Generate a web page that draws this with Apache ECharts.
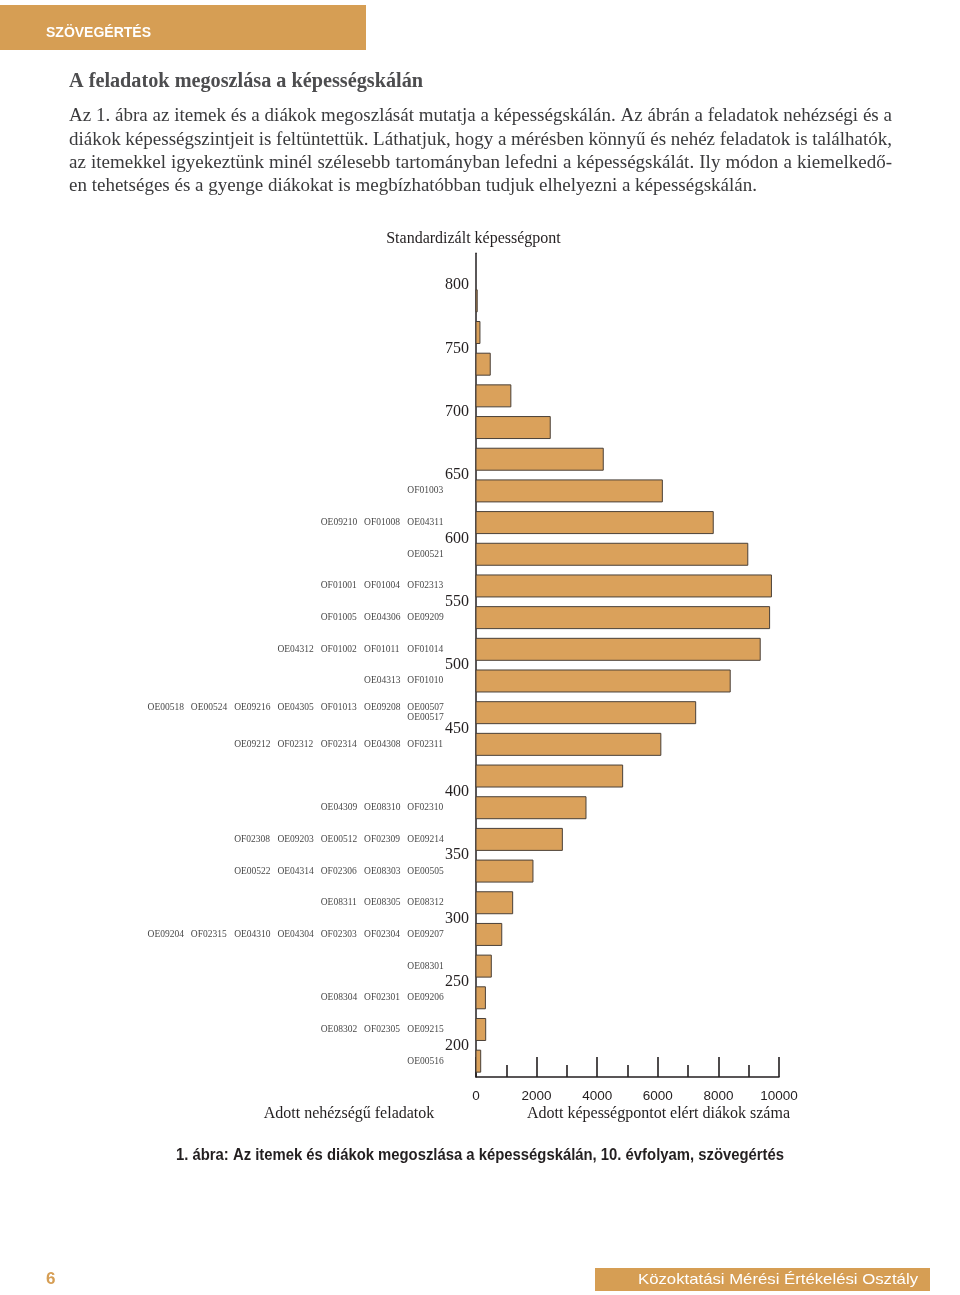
<!DOCTYPE html>
<html>
<head>
<meta charset="utf-8">
<script src="https://cdn.jsdelivr.net/npm/echarts@6/dist/echarts.min.js"></script>
<style>
html,body{margin:0;padding:0;background:#fff;}
#chart{width:960px;height:1295px;}
</style>
</head>
<body>
<div id="chart"></div>
<script>
// ---------- DATA ----------
// Ability bins (lower bound of each 25-point bin), top to bottom
const binStart = [775,750,725,700,675,650,625,600,575,550,525,500,475,450,425,400,375,350,325,300,275,250,225,200,175];
// Number of students in each bin
const studentCounts = [40,130,470,1150,2450,4200,6150,7830,8970,9750,9690,9380,8390,7250,6100,4840,3630,2850,1880,1210,850,505,310,320,155];
const binSize = 25;

// Item difficulty levels (ability-scale value of each label row)
const itemLevels = [637.5,612.5,587.5,562.5,537.5,512.5,487.5,462.5,437.5,387.5,362.5,337.5,312.5,287.5,262.5,237.5,212.5,187.5];
const itemNames = [
  ['OF01003'],
  ['OE09210','OF01008','OE04311'],
  ['OE00521'],
  ['OF01001','OF01004','OF02313'],
  ['OF01005','OE04306','OE09209'],
  ['OE04312','OF01002','OF01011','OF01014'],
  ['OE04313','OF01010'],
  ['OE00518','OE00524','OE09216','OE04305','OF01013','OE09208','OE00507\nOE00517'],
  ['OE09212','OF02312','OF02314','OE04308','OF02311'],
  ['OE04309','OE08310','OF02310'],
  ['OF02308','OE09203','OE00512','OF02309','OE09214'],
  ['OE00522','OE04314','OF02306','OE08303','OE00505'],
  ['OE08311','OE08305','OE08312'],
  ['OE09204','OF02315','OE04310','OE04304','OF02303','OF02304','OE09207'],
  ['OE08301'],
  ['OE08304','OF02301','OE09206'],
  ['OE08302','OF02305','OE09215'],
  ['OE00516']
];

const xTicks = [0,2000,4000,6000,8000,10000];
const yTickLabels = [200,250,300,350,400,450,500,550,600,650,700,750,800];

const headerText = 'SZÖVEGÉRTÉS';
const titleText = 'A feladatok megoszlása a képességskálán';
const paragraphLines = [
  'Az 1. ábra az itemek és a diákok megoszlását mutatja a képességskálán. Az ábrán a feladatok nehézségi és a',
  'diákok képességszintjeit is feltüntettük. Láthatjuk, hogy a mérésben könnyű és nehéz feladatok is találhatók,',
  'az itemekkel igyekeztünk minél szélesebb tartományban lefedni a képességskálát. Ily módon a kiemelkedő-',
  'en tehetséges és a gyenge diákokat is megbízhatóbban tudjuk elhelyezni a képességskálán.'
];
const yAxisTitle = 'Standardizált képességpont';
const leftTitle = 'Adott nehézségű feladatok';
const rightTitle = 'Adott képességpontot elért diákok száma';
const captionText = '1. ábra: Az itemek és diákok megoszlása a képességskálán, 10. évfolyam, szövegértés';
const pageNumber = '6';
const footerText = 'Közoktatási Mérési Értékelési Osztály';

// ---------- STYLE ----------
const ORANGE = '#D69E54';
const BAR = '#DAA15B';
const INK = '#231f20';
const SERIF = '"Liberation Serif", "Times New Roman", serif';
const SANS = '"Liberation Sans", Arial, sans-serif';

const mctx = document.createElement('canvas').getContext('2d');
function measure(text, font){ mctx.font = font; return mctx.measureText(text).width; }

function lineElements(text, x, y, width, font, fill, justify){
  const words = text.split(' ');
  const widths = words.map(w => measure(w, font));
  const total = widths.reduce((a,b)=>a+b,0);
  const gap = justify ? (width - total)/(words.length-1) : measure(' ', font);
  let cx = x;
  return words.map((w,i)=>{
    const el = {type:'text', x:cx, y:y, silent:true,
      style:{text:w, font:font, fill:fill, textAlign:'left', verticalAlign:'middle', textVerticalAlign:'middle'}};
    cx += widths[i] + gap;
    return el;
  });
}
function fitText(text, x, y, width, font, fill, align){
  const w = measure(text, font);
  return {type:'text', x:x, y:y, scaleX: width / w, silent:true,
    style:{text:text, font:font, fill:fill, textAlign:align, verticalAlign:'middle', textVerticalAlign:'middle'}};
}

// ---------- BUILD ----------
const barData = binStart.map((lo,i)=>[lo, lo+binSize, studentCounts[i]]);

const itemData = [];
const rowHasStack = itemNames.map(r => r.some(n => n.indexOf('\n')>=0));
itemNames.forEach((row, r)=>{
  const n = row.length;
  row.forEach((name, i)=>{
    const col = 6 - (n-1-i);
    const label = rowHasStack[r] && name.indexOf('\n')<0 ? name + '\n\u00a0' : name;
    itemData.push({value:[col, itemLevels[r]], name: label});
  });
});

const graphics = [];
graphics.push({type:'rect', shape:{x:0, y:5, width:366, height:45}, style:{fill:ORANGE}, silent:true});
graphics.push(fitText(headerText, 46, 33, 105, 'bold 14px ' + SANS, '#fff', 'left'));
graphics.push(fitText(titleText, 69, 82, 354, 'bold 20px ' + SERIF, '#4d4d4f', 'left'));
const pFont = '19px ' + SERIF;
const pY = [116.5, 139.8, 163.1, 186.4];
paragraphLines.forEach((ln, i)=>{
  const justify = i < paragraphLines.length - 1;
  lineElements(ln, 69, pY[i], 823, pFont, '#3a3a3c', justify).forEach(e => graphics.push(e));
});
graphics.push({type:'text', x:473.5, y:239, silent:true, style:{text:yAxisTitle, font:'16px ' + SERIF, fill:INK, textAlign:'center', verticalAlign:'middle', textVerticalAlign:'middle'}});
graphics.push({type:'text', x:349, y:1114, silent:true, style:{text:leftTitle, font:'16px ' + SERIF, fill:INK, textAlign:'center', verticalAlign:'middle', textVerticalAlign:'middle'}});
graphics.push({type:'text', x:658.5, y:1114, silent:true, style:{text:rightTitle, font:'16px ' + SERIF, fill:INK, textAlign:'center', verticalAlign:'middle', textVerticalAlign:'middle'}});
graphics.push(fitText(captionText, 480, 1156, 608, 'bold 16px ' + SANS, INK, 'center'));
graphics.push({type:'text', x:46, y:1279, silent:true, style:{text:pageNumber, font:'bold 17px ' + SANS, fill:ORANGE, textAlign:'left', verticalAlign:'middle', textVerticalAlign:'middle'}});
graphics.push({type:'rect', shape:{x:595, y:1268, width:335, height:23}, style:{fill:ORANGE}, silent:true});
graphics.push(fitText(footerText, 778, 1280, 280, '15px ' + SANS, '#fff', 'center'));

const GRID_TOP = 253.3, GRID_H = 823.7;

const option = {
  backgroundColor:'#ffffff',
  animation:false,
  grid:[
    {left:476, top:GRID_TOP, width:303, height:GRID_H, containLabel:false},
    {left:147.5, top:GRID_TOP, width:259.8, height:GRID_H, containLabel:false}
  ],
  xAxis:[
    {type:'value', gridIndex:0, min:0, max:10000, interval:2000,
     axisLine:{show:true, lineStyle:{color:INK, width:1.5}},
     axisTick:{show:true, inside:true, length:20, lineStyle:{color:INK, width:1.6}},
     minorTick:{show:true, splitNumber:2, length:12, lineStyle:{color:INK, width:1.6}},
     splitLine:{show:false}, minorSplitLine:{show:false},
     axisLabel:{margin:12, color:INK, fontSize:13.5, fontFamily:SANS,
       formatter: v => xTicks.indexOf(v) >= 0 ? String(v) : ''}},
    {type:'value', gridIndex:1, min:0, max:6, show:false}
  ],
  yAxis:[
    {type:'value', gridIndex:0, min:175, max:825, interval:25,
     axisLine:{show:true, lineStyle:{color:INK, width:1.5}},
     axisTick:{show:false}, splitLine:{show:false},
     axisLabel:{margin:7, color:INK, fontSize:16, fontFamily:SERIF,
       formatter: v => yTickLabels.indexOf(v) >= 0 ? String(v) : ''}},
    {type:'value', gridIndex:1, min:175, max:825, show:false}
  ],
  series:[
    {type:'custom', xAxisIndex:0, yAxisIndex:0, data:barData,
     encode:{x:2, y:[0,1]},
     renderItem:function(params, api){
       const lo = api.value(0), hi = api.value(1), cnt = api.value(2);
       const pTop = api.coord([0, hi]);
       const pBot = api.coord([cnt, lo]);
       const h = pBot[1] - pTop[1];
       const inset = h * 0.153;
       return {type:'rect',
         shape:{x:pTop[0], y:pTop[1] + inset, width:Math.max(pBot[0]-pTop[0], 0.8), height:h - 2*inset},
         style:{fill:BAR, stroke:'#4a4038', lineWidth:1}};
     }, z:1},
    {type:'scatter', xAxisIndex:1, yAxisIndex:1, data:itemData,
     symbolSize:0.1, itemStyle:{color:'transparent'}, silent:true,
     label:{show:true, position:'right', distance:0, formatter:p => p.name,
       fontFamily:SERIF, fontSize:9.5, color:'#111', lineHeight:10, align:'left', verticalAlign:'middle'}}
  ],
  graphic:{elements:graphics}
};

const chart = echarts.init(document.getElementById('chart'), null, {renderer:'canvas'});
chart.setOption(option);
</script>
</body>
</html>
